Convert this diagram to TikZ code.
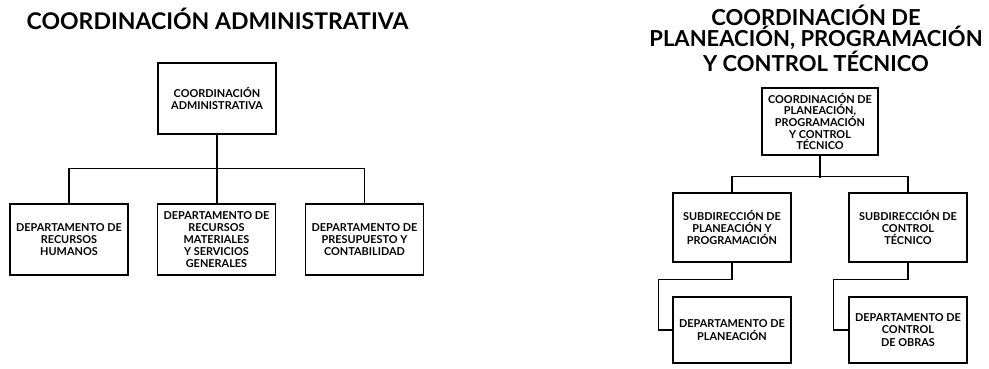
\documentclass[tikz,border=0pt]{standalone}
\usepackage{fontspec}
\setmainfont{Lato}
\begin{document}
\begin{tikzpicture}[x=1pt,y=-1pt,
  box/.style={draw, line width=1.2pt, inner sep=0pt, align=center,
    font=\bfseries\fontsize{10.9}{12.2}\selectfont},
  title/.style={align=center, inner sep=0pt, font=\bfseries\fontsize{23}{21.5}\selectfont},
  conn/.style={line width=1.2pt}]
\useasboundingbox (0,0) rectangle (989,369);
% left
\node[title] (t1) at (217.5,18.5) {COORDINACIÓN ADMINISTRATIVA};
\node[box, minimum width=118pt, minimum height=71pt] (ca) at (217,98.5) {COORDINACIÓN\\ADMINISTRATIVA};
\node[box, minimum width=118pt, minimum height=71pt] (rh) at (69,239.5) {DEPARTAMENTO DE\\RECURSOS\\HUMANOS};
\node[box, minimum width=118pt, minimum height=71pt] (rm) at (216.5,239.5) {DEPARTAMENTO DE\\RECURSOS\\MATERIALES\\Y SERVICIOS\\GENERALES};
\node[box, minimum width=118pt, minimum height=71pt] (pc) at (364.5,239.5) {DEPARTAMENTO DE\\PRESUPUESTO Y\\CONTABILIDAD};
\draw[conn] (ca.south) -- (ca.south |- rm.north);
\draw[conn] (rh.north) -- ++(0,-35) -| (pc.north);
% right
\node[title, font=\bfseries\fontsize{22}{21.5}\selectfont] (t2) at (816,38) {COORDINACIÓN DE\\PLANEACIÓN, PROGRAMACIÓN\\Y CONTROL TÉCNICO};
\node[box, minimum width=116pt, minimum height=67pt, font=\bfseries\fontsize{10.9}{11.7}\selectfont] (cp) at (820,121.5) {COORDINACIÓN DE\\PLANEACIÓN,\\PROGRAMACIÓN\\Y CONTROL\\TÉCNICO};
\node[box, minimum width=118pt, minimum height=69pt] (sp) at (732,227.5) {SUBDIRECCIÓN DE\\PLANEACIÓN Y\\PROGRAMACIÓN};
\node[box, minimum width=118pt, minimum height=69pt] (sc) at (908,227.5) {SUBDIRECCIÓN DE\\CONTROL\\TÉCNICO};
\node[box, minimum width=118pt, minimum height=66pt] (dp) at (732,330) {DEPARTAMENTO DE\\PLANEACIÓN};
\node[box, minimum width=118pt, minimum height=66pt] (dc) at (908,330) {DEPARTAMENTO DE\\CONTROL\\DE OBRAS};
\draw[conn] (cp.south) -- ++(0,22);
\draw[conn] (sp.north) -- ++(0,-16) -| (sc.north);
\draw[conn] (sp.south) -- ++(0,17) -| ([xshift=-14pt]dp.west) -- (dp.west);
\draw[conn] (sc.south) -- ++(0,17) -| ([xshift=-15pt]dc.west) -- (dc.west);
\end{tikzpicture}
\end{document}
